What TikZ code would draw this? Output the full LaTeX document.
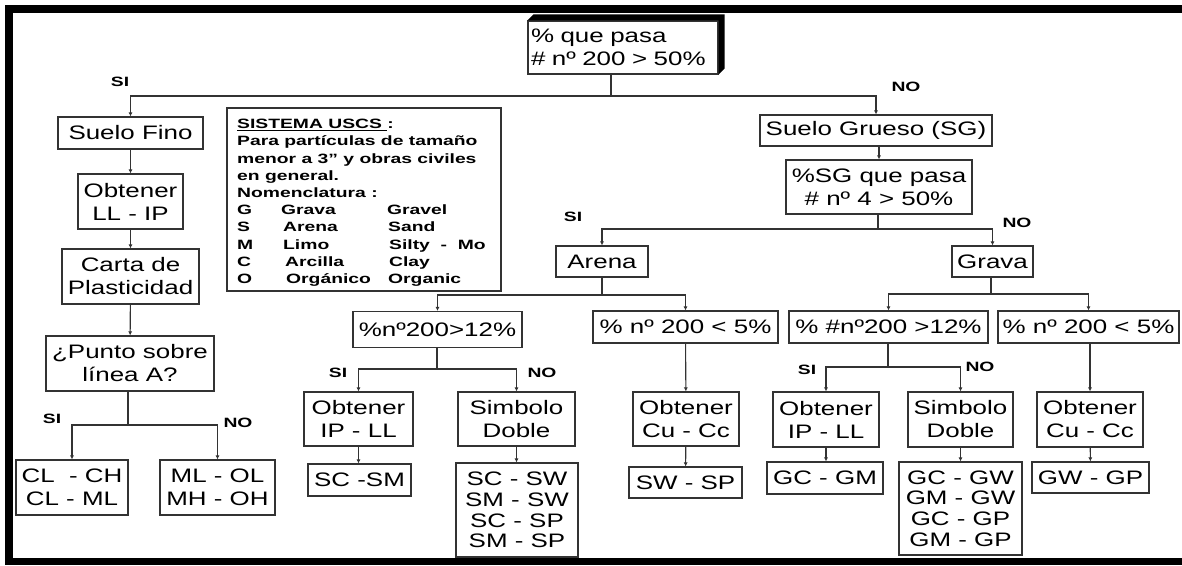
\documentclass[tikz,border=0pt]{standalone}
\usepackage{fontspec}
\setmainfont{Liberation Sans}[FakeStretch=1.33]
\newfontfamily\legfont{Liberation Sans}[FakeStretch=1.43]
\usetikzlibrary{arrows.meta,calc}
\begin{document}
\begin{tikzpicture}[x=1pt,y=-1pt,
  box/.style={draw=black!80, line width=1.1pt, fill=white, align=center, inner sep=0pt,
              font=\fontsize{19.5}{23}\selectfont, text=black},
  dbl/.style={box, font=\fontsize{19.5}{20.8}\selectfont},
  lab/.style={font=\legfont\bfseries\fontsize{13.5}{15}\selectfont, inner sep=0pt, text=black},
  ln/.style={draw=black!80, line width=1.1pt},
  stem/.style={draw=black!80, line width=1.8pt},
  arr/.style={ln, -{Latex[length=4pt,width=4pt]}},
]
\useasboundingbox (0,0) rectangle (1182,565);
\fill[white] (0,0) rectangle (1182,565);
% frame
\fill[black] (5,5) rectangle (1182,12.5);
\fill[black] (5,5) rectangle (13,565);
\fill[black] (5,557.5) rectangle (1182,565);

% top box
\node[box, minimum width=190, minimum height=53, align=left, text width=184, inner xsep=3pt] (top) at (623,47.5) {\% que pasa\\\# nº 200 > 50\%};
\fill[black] (top.north west) -- ++(6,-6) -- ($(top.north east)+(6,-6)$) -- ($(top.south east)+(6,-6)$) -- (top.south east) -- (top.north east) -- cycle;

% left branch
\node[box, minimum width=145, minimum height=32] (fino) at (130.5,133) {Suelo Fino};
\node[box, minimum width=105, minimum height=55] (obt1) at (130.5,201.5) {Obtener\\LL - IP};
\node[box, minimum width=137, minimum height=55] (carta) at (130.5,276.5) {Carta de\\Plasticidad};
\node[box, minimum width=168, minimum height=55] (punto) at (130,363.5) {¿Punto sobre\\línea A?};
\node[box, minimum width=112, minimum height=55] (cl) at (72,487.5) {CL\ \ - CH\\CL - ML};
\node[box, minimum width=115, minimum height=55] (ml) at (217.5,487.5) {ML - OL\\MH - OH};

% legend
\node[draw=black!80, line width=1.1pt, fill=white, minimum width=274, minimum height=183, inner sep=0pt] (leg) at (364,199.5) {};
\node[anchor=north west, align=left, inner sep=0pt, text=black,
      font=\legfont\bfseries\fontsize{13.5}{17.2}\selectfont] (legtxt) at (237,119)
 {\underline{SISTEMA USCS\ }:\\
  Para partículas de tamaño\\
  menor a 3” y obras civiles\\
  en general.\\
  Nomenclatura :\\
  \makebox[44pt][l]{G}\makebox[106pt][l]{Grava}Gravel\\
  \makebox[46pt][l]{S}\makebox[105pt][l]{Arena}Sand\\
  \makebox[46pt][l]{M}\makebox[106pt][l]{Limo}Silty\ \ -\ \ Mo\\
  \makebox[48pt][l]{C}\makebox[104pt][l]{Arcilla}Clay\\
  \makebox[49pt][l]{O}\makebox[102pt][l]{Orgánico}Organic};

% right branch
\node[box, minimum width=232, minimum height=31] (grueso) at (876,130.5) {Suelo Grueso (SG)};
\node[box, minimum width=186, minimum height=54] (sg) at (879,187) {\%SG que pasa\\\# nº 4 > 50\%};
\node[box, minimum width=92, minimum height=31] (arena) at (602,261.5) {Arena};
\node[box, minimum width=81, minimum height=31] (grava) at (992.5,261.5) {Grava};

% sand
\node[box, minimum width=169, minimum height=36] (s12) at (437.5,329.5) {\%nº200>12\%};
\node[box, minimum width=185, minimum height=32] (s5) at (685.5,327) {\% nº 200 < 5\%};
\node[box, minimum width=109, minimum height=54] (sobt) at (358.5,419) {Obtener\\IP - LL};
\node[box, minimum width=117, minimum height=54] (sdob) at (516.5,419) {Simbolo\\Doble};
\node[box, minimum width=103, minimum height=32] (ssm) at (359.5,480) {SC -SM};
\node[dbl, minimum width=122, minimum height=94] (sdbl) at (517,510) {SC - SW\\SM - SW\\SC - SP\\SM - SP};
\node[box, minimum width=106, minimum height=54] (scu) at (686,419) {Obtener\\Cu - Cc};
\node[box, minimum width=113, minimum height=31] (swsp) at (685.5,482.5) {SW - SP};

% gravel
\node[box, minimum width=199, minimum height=32] (g12) at (888.5,327) {\% \#nº200 >12\%};
\node[box, minimum width=181, minimum height=32] (g5) at (1088.5,327) {\% nº 200 < 5\%};
\node[box, minimum width=106, minimum height=55] (gobt) at (826,419.5) {Obtener\\IP - LL};
\node[box, minimum width=105, minimum height=55] (gdob) at (960.5,419.5) {Simbolo\\Doble};
\node[box, minimum width=116, minimum height=32] (gcgm) at (825,478) {GC - GM};
\node[dbl, minimum width=123, minimum height=93] (gdbl) at (960.5,508.5) {GC - GW\\GM - GW\\GC - GP\\GM - GP};
\node[box, minimum width=106, minimum height=55] (gcu) at (1090,419.5) {Obtener\\Cu - Cc};
\node[box, minimum width=117, minimum height=31] (gwgp) at (1090.5,477.5) {GW - GP};

% labels
\node[lab] (si1) at (120,82) {SI};
\node[lab] (no1) at (906,87) {NO};
\node[lab] (si2) at (52,419) {SI};
\node[lab] (no2) at (238,423) {NO};
\node[lab] (si3) at (573,217) {SI};
\node[lab] (no3) at (1017,223) {NO};
\node[lab] (si4) at (338,373) {SI};
\node[lab] (no4) at (542,373) {NO};
\node[lab] (si5) at (807,370) {SI};
\node[lab] (no5) at (980,367) {NO};

% connectors
\coordinate (j0) at (611,96);
\draw[stem] (top.south -| j0) -- (j0);
\draw[arr] (j0) -| (fino.north);
\draw[arr] (j0) -| (grueso.north);

\draw[arr] (fino) -- (obt1);
\draw[arr] (obt1) -- (carta);
\draw[arr] (carta) -- (punto);
\coordinate (j1) at (128,425);
\draw[stem] (punto.south -| j1) -- (j1);
\draw[arr] (j1) -| (cl.north);
\draw[arr] (j1) -| (ml.north);

\draw[arr] (grueso.south -| sg.north) -- (sg.north);
\coordinate (j2) at (878,229);
\draw[stem] (sg.south -| j2) -- (j2);
\draw[arr] (j2) -| (arena.north);
\draw[arr] (j2) -| (grava.north);

\coordinate (j3) at (602,295);
\draw[stem] (arena.south -| j3) -- (j3);
\draw[arr] (j3) -| (s12.north);
\draw[arr] (j3) -| (s5.north);

\coordinate (j4) at (437,369);
\draw[stem] (s12.south -| j4) -- (j4);
\draw[arr] (j4) -| (sobt.north);
\draw[arr] (j4) -| (sdob.north);
\draw[arr] (sobt.south) -- (sobt.south |- ssm.north);
\draw[arr] (sdob.south) -- (sdob.south |- sdbl.north);
\draw[arr] (s5) -- (scu);
\draw[arr] (scu) -- (swsp);

\coordinate (j5) at (991,294);
\draw[stem] (grava.south -| j5) -- (j5);
\draw[arr] (j5) -| (g12.north);
\draw[arr] (j5) -| (g5.north);

\coordinate (j6) at (888,367);
\draw[stem] (g12.south -| j6) -- (j6);
\draw[arr] (j6) -| (gobt.north);
\draw[arr] (j6) -| (gdob.north);
\draw[arr] (gobt.south) -- (gobt.south |- gcgm.north);
\draw[arr] (gdob) -- (gdbl);
\draw[arr] (g5.south -| gcu.north) -- (gcu.north);
\draw[arr] (gcu) -- (gwgp);
\end{tikzpicture}
\end{document}
